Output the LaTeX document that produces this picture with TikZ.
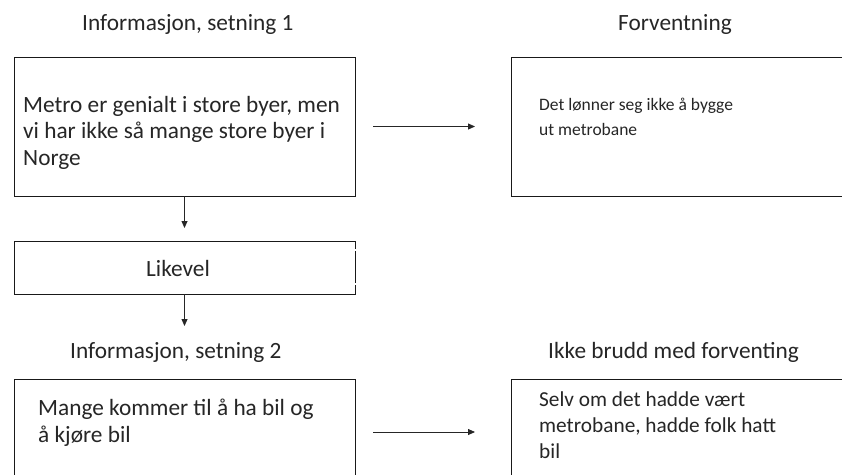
\documentclass[tikz,border=0pt]{standalone}
\usepackage{fontspec}
\setmainfont{Carlito}
\usetikzlibrary{arrows.meta}
\definecolor{ink}{RGB}{38,38,38}
\tikzset{
  boxshape/.style={draw=black!90, line width=0.9pt, anchor=north west, inner sep=0pt, outer sep=0pt},
  bigtxt/.style={font=\fontsize{23.3}{26.5}\selectfont, text=ink, align=left, inner sep=0pt, anchor=base west},
  midtxt/.style={font=\fontsize{21.3}{26}\selectfont, text=ink, align=left, inner sep=0pt, anchor=base west},
  smalltxt/.style={font=\fontsize{17.5}{25}\selectfont, text=ink, align=left, inner sep=0pt, anchor=base west},
  arr/.style={draw=black!85, line width=0.8pt, -{Triangle[length=7pt,width=6pt]}}
}
\begin{document}
\begin{tikzpicture}[x=1pt,y=-1pt]
\useasboundingbox (0,0) rectangle (842,474);
\clip (0,0) rectangle (842,474);
\fill[white] (0,0) rectangle (842,474);

% titles
\node[bigtxt] (t1) at (82,30) {Informasjon, setning 1};
\node[bigtxt] (t3) at (618,30) {Forventning};
\node[bigtxt] (t2) at (70,358) {Informasjon, setning 2};
\node[bigtxt] (t4) at (548,358) {Ikke brudd med forventing};

% boxes
\node[boxshape, minimum width=341pt, minimum height=139pt] (b1) at (14,57) {};
\node[boxshape, minimum width=360pt, minimum height=139pt] (b2) at (511,57) {};
\node[boxshape, minimum width=341pt, minimum height=53pt] (lk) at (14,241) {};
\node[boxshape, minimum width=341pt, minimum height=106pt] (b3) at (14,379) {};
\node[boxshape, minimum width=360pt, minimum height=106pt] (b4) at (511,379) {};

% small breaks in the right edge of the Likevel box
\fill[white] (354,248.5) rectangle (357,250.5);
\fill[white] (354,282.5) rectangle (357,284.5);

% box texts (anchor = baseline of the last line)
\node[bigtxt] (x1) at (23,165) {Metro er genialt i store byer, men\\vi har ikke så mange store byer i\\Norge};
\node[smalltxt] (x2) at (539,135) {Det lønner seg ikke å bygge\\ut metrobane};
\node[bigtxt, anchor=center] (xl) at (178,268) {Likevel};
\node[bigtxt] (x3) at (38,442) {Mange kommer til å ha bil og\\å kjøre bil};
\node[midtxt] (x4) at (539,458) {Selv om det hadde vært\\metrobane, hadde folk hatt\\bil};

% connectors
\coordinate (e2) at (184.5,326);
\draw[arr, shorten <=18pt, shorten >=36pt] (b1) -- (b2);
\draw[arr, shorten <=18pt, shorten >=36pt] (b3) -- (b4);
\draw[arr, shorten >=13pt] (b1) -- (lk);
\draw[arr] (lk.south) -- (e2);
\end{tikzpicture}
\end{document}
